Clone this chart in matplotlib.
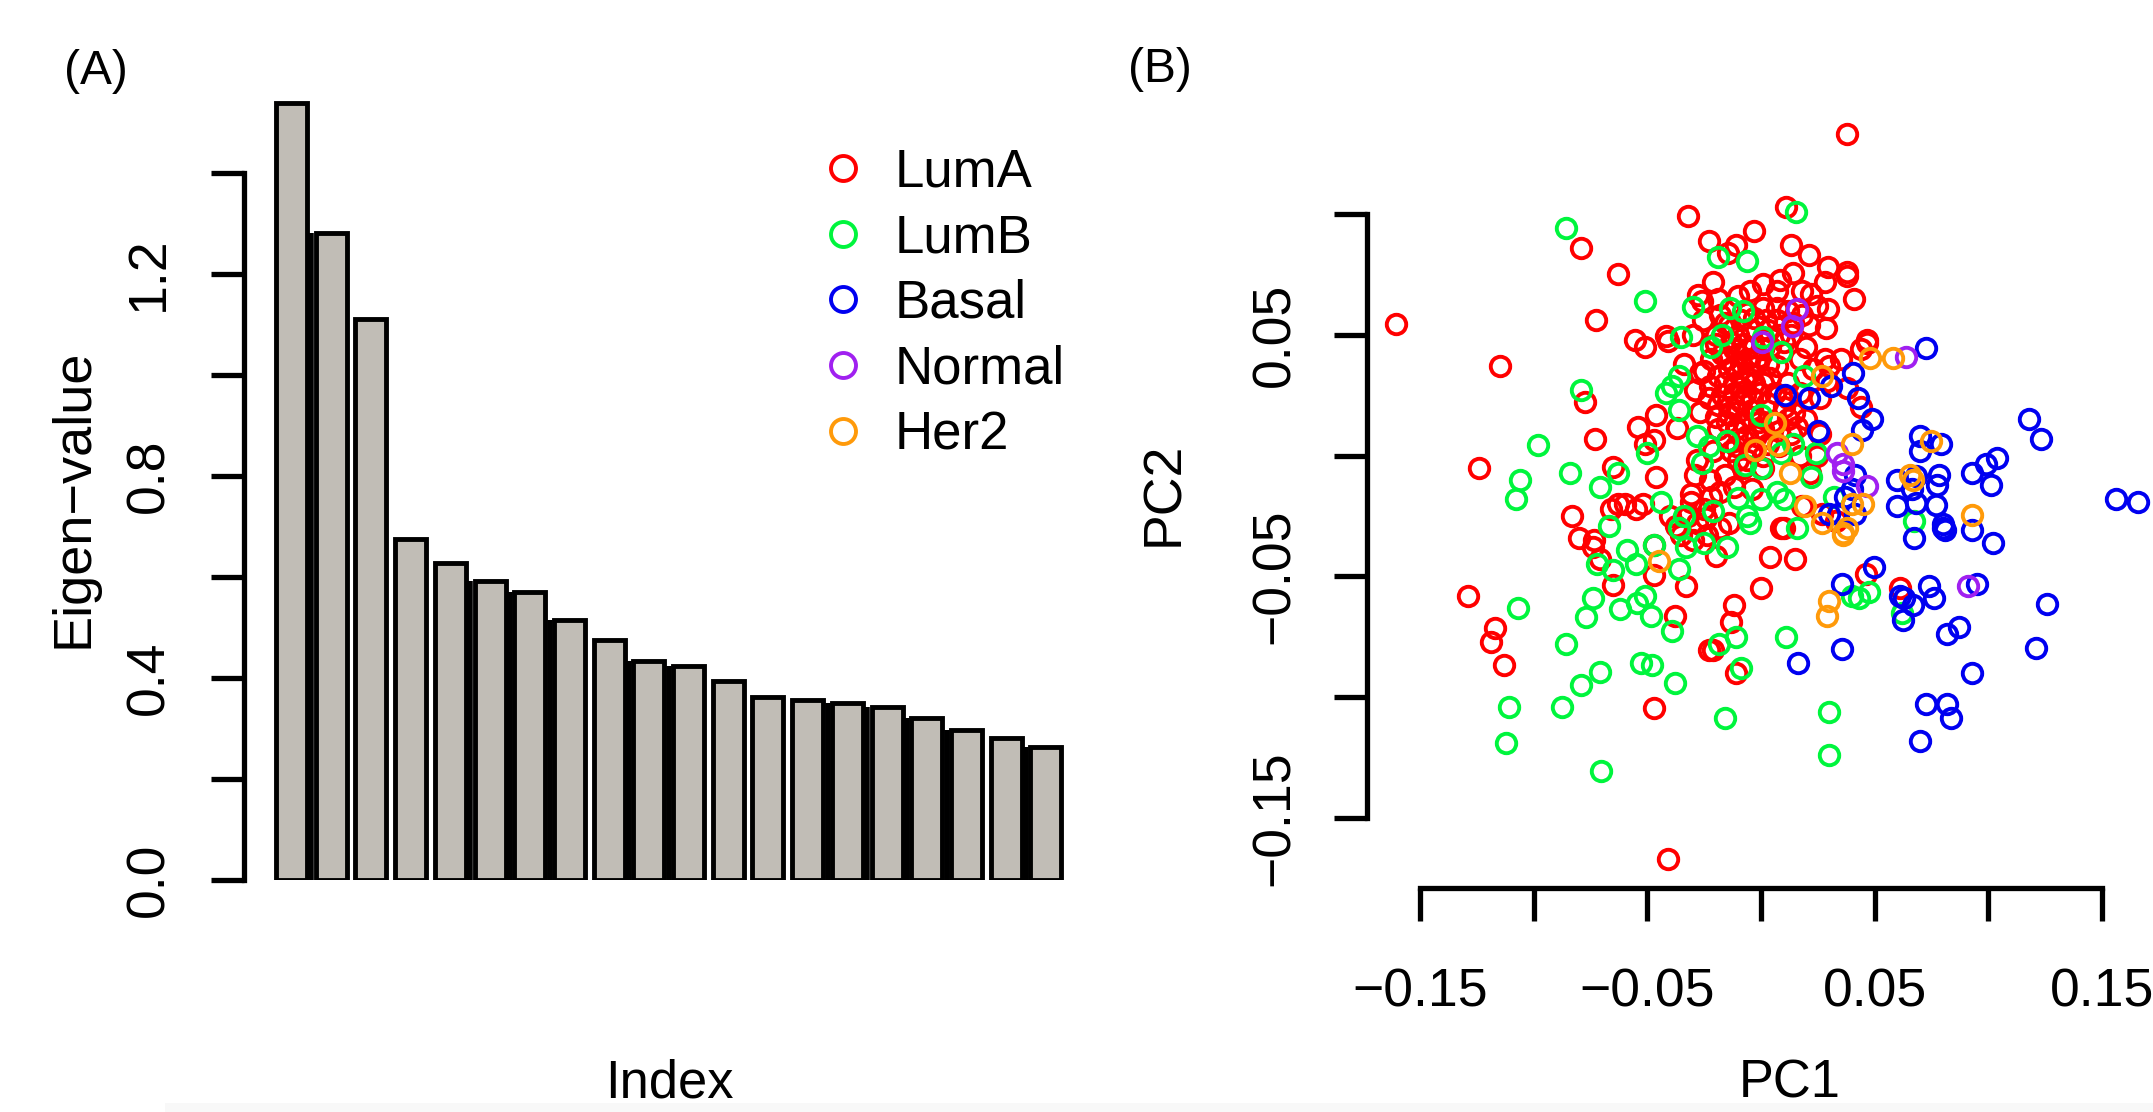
import matplotlib
matplotlib.use('Agg')
import matplotlib.pyplot as plt
from matplotlib.lines import Line2D
from matplotlib.patches import Rectangle

plt.rcParams['font.family'] = ['Liberation Sans', 'DejaVu Sans']

# Panel A
eigen = [1.538, 1.281, 1.110, 0.675, 0.628, 0.593, 0.570, 0.514, 0.476, 0.434,
         0.423, 0.395, 0.363, 0.357, 0.350, 0.343, 0.320, 0.297, 0.282, 0.263]
eigen_ticks = [0.0, 0.2, 0.4, 0.6, 0.8, 1.0, 1.2, 1.4]
eigen_labels = ['0.0', '', '0.4', '', '0.8', '', '1.2', '']
# gaps between neighbouring bars that look solid black in the picture
black_gaps = [0, 4, 5, 6, 8, 9, 13, 14, 15, 16, 18]

# Panel B, values in thousandths of a PC unit
lum_a = [(38, 133), (-160.5, 54.5), (-115, 37), (-32, 99), (11, 103), (-23, 89), (-11, 87), (-14.5, 84),
         (-3, 93), (13, 87), (21, 83), (29.5, 78), (38, 76), (38, 74.5), (41, 65), (14, 75.5), (8.4, 72.6),
         (1, 71), (28, 72), (-21, 72), (-27.6, 66.5), (-26, 64), (-19, 65), (-10, 66), (18, 68), (22, 67),
         (29.6, 60.6), (24.5, 62), (-5, 68), (7, 68), (1, 61), (-6, 59), (7, 61), (28.7, 52.7), (-25.5, 56),
         (-79, 86), (-63, 75), (-72.8, 56), (-55.4, 48), (-51, 45), (-42, 49.6), (-41, 47.6), (-30, 50),
         (-34, 38), (-22, 40), (14, 55), (10, 47), (17, 40), (28, 40), (35, 40), (46.6, 48), (46.6, 46.6),
         (44, 44), (-16, 55), (-10, 50), (-4, 52), (2, 56), (-12, 44), (-6, 44), (-15, 40), (-9, 38),
         (-77.5, 22), (-73, 7), (-54, 12), (-46, 17), (-37, 11.4), (-27, 18), (-51, 5), (-47, 6.5), (-65, -4.6),
         (-46, -9), (-124, -5), (-16, -8), (-22.5, -10), (-29, -8), (-28, -2), (-31, -16), (-31, -19),
         (-63, -20), (-60, -20), (-55, -22), (-66, -22), (-52, -20), (-14, -28), (-40, -25), (-23.7, -33),
         (10, -30), (4, -42), (15, -43), (14.5, 17.5), (2.6, 21.7), (-0.4, 26), (-5, 16), (-9, 28.5), (-12, 37),
         (-19, 33), (-27, 34), (-22.5, 29), (-17, 25), (-9, 22), (1, 30), (7, 37), (23, 36), (30, 37), (29, 31),
         (17, 26), (26, 24), (-15, 14), (-19, 11), (-11, 11), (-8, 7), (-15, 6), (1, 11), (3, 5), (8, 4), (-6, -2),
         (1, -5), (-8, -5), (21.6, -7), (17, 0), (24.6, 0), (26, 9), (18, -21), (-12, 30), (-5, 34), (-2, 39),
         (4, 32), (12, 30), (-14, 20), (-4, 24), (10, 20), (-8, 14), (5, 14), (-2, 8), (-13, 2), (-21, 2), (13, 9),
         (-83, -25), (-80, -34), (-73.5, -35), (-74, -38), (-71, -43), (-37.5, -29), (-47, -37), (-47, -49.5),
         (-65, -53.5), (-33, -54), (-20, -41.5), (-30, -35), (-129, -58), (0, -55), (-12, -62), (-13, -69),
         (-38, -66.5), (-117, -71.5), (-119, -77), (-113, -86.5), (-23, -80.5), (-21, -80.5), (-11, -90),
         (-47, -104.5), (-41, -167), (46, -49), (61, -55), (9, -30), (-25, -22), (-4, -14), (27, -24), (33, -27),
         (38, 28), (44, 20),
         (-18, 58), (-14, 54), (-9, 56), (-3, 57), (3, 52), (7, 56), (12, 60), (18, 58), (21, 54), (-20, 50),
         (-20, 46), (-17, 42), (-13, 47), (-10, 42), (-8, 46), (-6, 40), (-3, 45), (-1, 41), (1, 44), (3, 38),
         (-14, 36), (-10, 34), (-7, 31), (-3, 30), (-16, 30), (-12, 26), (-7, 25), (-19, 21), (-14, 17), (-10, 18),
         (-23, 24), (-4, 19), (-1, 14), (-20, 16), (-11, 4), (-6, 8), (-4, 3), (1, 0), (-10, -2), (12, 15),
         (16, 12), (20, 15), (8, 10), (6, 26), (12, 24), (4, 45), (8, 50), (13, 50), (20, 45), (-25, 35),
         (-29, 27), (-18, -15), (-12, -13), (-22, -17), (-28, -28), (-24, -26), (-18, -30), (-35, -33), (-32, -25)]
lum_b = [(-86, 94), (15.5, 101), (-19, 82), (-6, 80.5), (-51, 64), (-30, 61.5), (-13.5, 61), (-8, 60), (-17, 50),
         (-22, 45), (-35, 49), (1, 49), (9, 43), (19, 33), (-36, 33), (-39, 29), (-42, 26), (-79, 27), (-36, 19),
         (-98, 4.4), (-28, 8), (-23, 4), (-26, -3), (-50, 1), (-15, 6), (-84, -7), (-106, -10), (-108, -18),
         (-71, -13), (-63, -7), (0, 17), (14, 5), (9, 1), (24, 1), (0, -5), (-7, -4), (22, -9), (7, -15), (10, -18),
         (-10, -17.5), (0, -18), (-21, -23), (-34, -25), (-6, -25), (-5, -28), (-44, -19), (-67, -29), (-36, -30),
         (-59, -39), (-47, -37), (-25, -36), (-33, -38), (-15, -38), (-72, -45), (-65, -47.5), (-55, -45),
         (-36, -47), (16, -30), (67.5, -27), (32, -17), (-74, -59), (-77, -67), (-62, -63.5), (-54.5, -61),
         (-51, -58), (-48.5, -66.5), (-107, -63), (-39, -72.5), (-86, -78), (-71, -89.5), (-79, -95), (-53, -86),
         (-48, -86.5), (-38, -94), (-11, -75), (-18.5, -78), (-9, -88), (11, -75), (-111, -104), (-87.5, -104),
         (-16, -108.5), (30, -106), (30, -124), (-112, -119), (-70.5, -130.5), (40, -58), (43, -59), (47.5, -56.5),
         (62, -65)]
basal = [(72.5, 44.5), (40.6, 34), (31, 29), (42.7, 24), (10.5, 25), (21, 24), (49, 15), (44.5, 10.5), (25, 10),
         (70, 8), (79, 5), (70, 2), (118, 15), (123, 7), (104, -1), (99, -3.5), (93, -7), (101, -12), (60, -10),
         (68, -8.5), (78.5, -8), (77.5, -12), (68, -19.6), (60, -21), (77, -20.5), (66.5, -14), (156, -18), (166, -19),
         (80, -28.5), (80, -30), (81, -31), (93, -31), (102, -36), (67.5, -34), (41.5, -8), (37, -17), (40, -14),
         (30, -24), (34, -24), (41.5, -24), (49.5, -46), (35.6, -53), (61, -58), (63, -59), (67, -62), (62.5, -68),
         (74, -54), (76, -59), (95, -53), (126, -61.5), (87, -71), (82, -74), (121, -79.5), (35.6, -80), (16.4, -86),
         (92.7, -90), (72.6, -103), (82, -103), (83.5, -108.5), (70, -118)]
normal = [(16, 60.6), (13.5, 53.6), (0.3, 47), (63.6, 41), (33.6, 1), (36, -3.5), (36, -6.5), (46.5, -12.6), (91, -54)]
her2 = [(48, 40.5), (58, 40.5), (27, 33), (40, 5), (6, 13.5), (7.5, 4.4), (-2.6, 2.3), (12.8, -7), (19.4, -21),
        (27, -28), (40, -20), (45, -20), (36, -32), (38, -30), (36, -33), (75, 6), (65.5, -8), (67, -10), (92.7, -24.6),
        (30, -60), (29, -66.5), (-45, -43.7)]

groups = ['LumA', 'LumB', 'Basal', 'Normal', 'Her2']
colors = ['#FF0000', '#00F53D', '#0000F0', '#A020F0', '#FF9A0A']
points = [lum_a, lum_b, basal, normal, her2]

pc1_ticks = [-0.15, -0.10, -0.05, 0.0, 0.05, 0.10, 0.15]
pc1_labels = ['\u22120.15', '', '\u22120.05', '', '0.05', '', '0.15']
pc2_ticks = [-0.15, -0.10, -0.05, 0.0, 0.05, 0.10]
pc2_labels = ['\u22120.15', '', '\u22120.05', '', '0.05', '']

W, H = 2153, 1112
FS = 38.5


# Axes rectangle from pixel edges of the figure
def axes_px(fig, left, top, right, bottom):
    return fig.add_axes([left / W, 1 - bottom / H, (right - left) / W, (bottom - top) / H])


def label_px(fig, x, y, txt, rotation=0, size=FS):
    fig.text(x / W, 1 - y / H, txt, rotation=rotation, ha='center', va='center', fontsize=size, color='black')


def style_axis(ax):
    for s in ['top', 'right']:
        ax.spines[s].set_visible(False)
    for s in ['left', 'bottom']:
        ax.spines[s].set_linewidth(3.8)
    ax.tick_params(length=24, width=3.8, labelsize=FS, colors='black')


fig = plt.figure(figsize=(W / 100, H / 100), dpi=100)

# (A) eigenvalues
ax1 = axes_px(fig, 243.5, 80, 1080, 880)
ax1.bar(range(len(eigen)), eigen, width=0.78, color='#C1BDB6', edgecolor='black', linewidth=3.5)
for g in black_gaps:
    ax1.vlines(g + 0.5, 0, min(eigen[g], eigen[g + 1]), color='black', linewidth=4)
ax1.set_xlim(-1.21, 19.86)
ax1.set_ylim(0, 800 / 505)
style_axis(ax1)
ax1.spines['bottom'].set_visible(False)
ax1.spines['left'].set_bounds(0, 1.4)
ax1.set_xticks([])
ax1.set_yticks(eigen_ticks)
ax1.set_yticklabels(eigen_labels, rotation=90, va='center')
ax1.tick_params(axis='y', pad=26)

handles = [Line2D([], [], ls='none', marker='o', ms=18, mfc='none', mec=c, mew=2.8) for c in colors]
ax1.legend(handles, groups, loc='upper left', bbox_to_anchor=(0.685, 0.916), frameon=False, fontsize=38,
           labelspacing=0.30, handlelength=1, handletextpad=0.48, borderpad=0, borderaxespad=0)

# (B) PC scatter
ax2 = axes_px(fig, 1367, 100, 2153, 888)
for pts, c in zip(points, colors):
    xs = [p[0] / 1000 for p in pts]
    ys = [p[1] / 1000 for p in pts]
    ax2.plot(xs, ys, ls='none', marker='o', ms=14, mfc='none', mec=c, mew=2.8, clip_on=False)
ax2.set_xlim((1367 - 1761) / 2273, (2153 - 1761) / 2273)
ax2.set_ylim((455.6 - 888) / 2416, (455.6 - 100) / 2416)
style_axis(ax2)
ax2.spines['left'].set_bounds(-0.15, 0.10)
ax2.spines['bottom'].set_bounds(-0.15, 0.15)
ax2.set_xticks(pc1_ticks)
ax2.set_xticklabels(pc1_labels)
ax2.set_yticks(pc2_ticks)
ax2.set_yticklabels(pc2_labels, rotation=90, va='center')
ax2.tick_params(axis='x', pad=33)
ax2.tick_params(axis='y', pad=24)

label_px(fig, 96, 71, '(A)', size=34.5)
label_px(fig, 1160, 69, '(B)', size=34.5)
label_px(fig, 74, 498, 'Eigen\u2212value', rotation=90, size=39)
label_px(fig, 669, 1084, 'Index', size=37.8)
label_px(fig, 1164, 494, 'PC2', rotation=90)
label_px(fig, 1790, 1084, 'PC1', size=37.8)

# faint strip along the bottom edge of the picture
fig.add_artist(Rectangle((165 / W, 0), 1 - 165 / W, 9 / H, transform=fig.transFigure, color='#F8F8F8', lw=0))

fig.savefig('out.png', dpi=100)
